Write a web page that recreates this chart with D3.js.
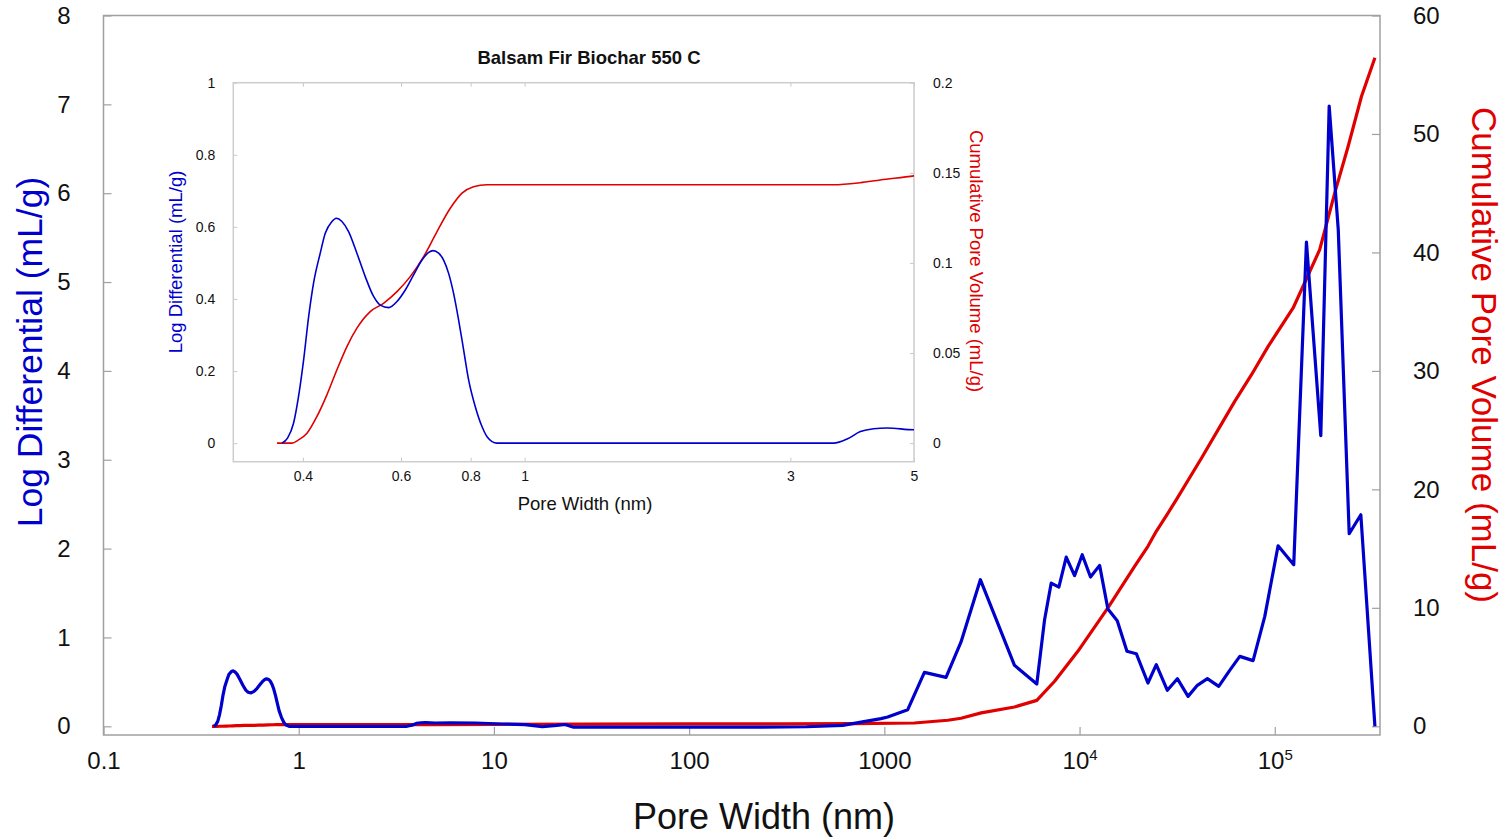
<!DOCTYPE html>
<html>
<head>
<meta charset="utf-8">
<script src="https://cdn.jsdelivr.net/npm/d3@7"></script>
<style>
  body { margin: 0; background: #fff; }
  svg { display: block; font-family: "Liberation Sans", Arial, sans-serif; }
  .tick text { fill: #111; }
</style>
</head>
<body>
<svg id="chart" width="1505" height="837"></svg>
<script>
// Log differential pore volume (mL/g) vs pore width (nm)
const diffWidth = [0.3667, 0.3754, 0.3848, 0.3928, 0.4012, 0.4096, 0.4180, 0.4297, 0.4387, 0.4510,
  0.4590, 0.4700, 0.4831, 0.5000, 0.5176, 0.5357, 0.5508, 0.5700, 0.5901, 0.6107,
  0.6321, 0.6544, 0.6726, 0.6848, 0.7008, 0.7155, 0.7305, 0.7455, 0.7612, 0.7772,
  0.7933, 0.8156, 0.8385, 0.8562, 0.8923, 1.2, 2.0, 3.0, 3.587, 3.8,
  4.006, 4.232, 4.473, 5.0, 6.0, 8.05, 11.0, 14.4, 17.7, 21.0,
  23.1, 25.6, 50, 100, 200, 400, 612, 961, 1040, 1318,
  1604, 2070, 2471, 3104, 4642, 6039, 6620, 7160, 7834, 8546,
  9427, 10320, 11380, 12670, 13970, 15600, 17490, 19530, 22400, 24720,
  28170, 31700, 35960, 40130, 45170, 51630, 58770, 66190, 77450, 88900,
  104000, 125100, 145300, 172100, 190000, 211500, 240600, 276000, 325900];
const diffValue = [0, 0.014, 0.055, 0.129, 0.231, 0.351, 0.444, 0.527, 0.582, 0.615,
  0.624, 0.615, 0.587, 0.527, 0.462, 0.407, 0.383, 0.376, 0.393, 0.425,
  0.467, 0.508, 0.529, 0.534, 0.527, 0.508, 0.471, 0.416, 0.342, 0.259,
  0.176, 0.101, 0.046, 0.018, 0, 0, 0, 0, 0, 0.012,
  0.032, 0.040, 0.042, 0.037, 0.040, 0.037, 0.026, 0.019, -0.003, 0.010,
  0.020, -0.010, -0.010, -0.010, -0.010, -0.005, 0.010, 0.086, 0.105, 0.187,
  0.607, 0.551, 0.949, 1.650, 0.686, 0.476, 1.200, 1.612, 1.567, 1.905,
  1.695, 1.931, 1.680, 1.811, 1.320, 1.189, 0.844, 0.817, 0.487, 0.694,
  0.405, 0.536, 0.337, 0.461, 0.536, 0.450, 0.630, 0.787, 0.739, 1.237,
  2.032, 1.819, 5.449, 3.27, 6.98, 5.587, 2.167, 2.381, 0];

// Cumulative pore volume (mL/g)
const cumWidth = [0.3594, 0.3822, 0.3928, 0.4068, 0.4239, 0.4417, 0.4604, 0.4798, 0.5, 0.5284,
  0.5581, 0.5901, 0.6233, 0.6588, 0.6963, 0.7355, 0.7721, 0.8096, 0.8562, 0.95,
  2.0, 3.587, 4.0, 4.35, 5.0, 10, 30, 100, 300, 700,
  1425, 2113, 2471, 3135, 4642, 6039, 7450, 9800, 13970, 19140,
  22400, 24720, 28380, 31330, 42170, 51290, 62370, 76000, 92500, 124200,
  169900, 202800, 237500, 278000, 325900];
const cumValue = [0, 0, 0.0018, 0.0055, 0.0148, 0.0268, 0.0407, 0.0536, 0.0638, 0.0730,
  0.0776, 0.0841, 0.0924, 0.1035, 0.1174, 0.1303, 0.1387, 0.1423, 0.1434, 0.1434,
  0.1434, 0.1434, 0.1445, 0.1460, 0.1483, 0.17, 0.19, 0.20, 0.21, 0.22,
  0.28, 0.51, 0.68, 1.13, 1.63, 2.19, 3.80, 6.33, 9.99, 13.50,
  15.19, 16.46, 18.0, 19.13, 22.65, 25.04, 27.43, 29.68, 32.07, 35.31,
  40.23, 45.01, 48.94, 53.16, 56.43];

// Tick values
const mainXTicks = [0.1, 1, 10, 100, 1000, 1e4, 1e5];
const mainYLeftTicks = [0, 1, 2, 3, 4, 5, 6, 7, 8];
const mainYRightTicks = [0, 10, 20, 30, 40, 50, 60];
const insetXTicks = [0.4, 0.6, 0.8, 1, 3, 5];
const insetYLeftTicks = [0, 0.2, 0.4, 0.6, 0.8, 1];
const insetYRightTicks = [0, 0.05, 0.1, 0.15, 0.2];

const BLUE = '#0000cc';
const RED = '#e00000';

const diffData = diffWidth.map((w, i) => ({ w, v: diffValue[i] }));
const cumData = cumWidth.map((w, i) => ({ w, v: cumValue[i] }));

const svg = d3.select('#chart');

// ---------- main chart ----------
const M = { left: 103.5, right: 1380, top: 15.5, bottom: 735 };

const x = d3.scaleLog().domain([0.1, 3.46e5]).range([M.left, M.right]);
const yL = d3.scaleLinear().domain([-0.098, 8]).range([M.bottom, M.top]);
const yR = d3.scaleLinear().domain([-0.735, 60]).range([M.bottom, M.top]);

function styleAxis(g, size) {
  g.select('.domain').remove();
  g.selectAll('.tick line').attr('stroke', '#a0a0a0').attr('stroke-width', 1.2);
  g.selectAll('.tick text').attr('font-size', size).attr('font-family', '"Liberation Sans", Arial, sans-serif');
}

const gx = svg.append('g')
  .attr('transform', `translate(0,${M.bottom})`)
  .call(d3.axisBottom(x).tickValues(mainXTicks).tickSize(-8).tickPadding(17)
    .tickFormat(d => d >= 1e4 ? '' : String(d)))
  .call(g => styleAxis(g, 24));

// powers of ten as superscripts
gx.selectAll('.tick text').each(function(d) {
  if (d >= 1e4) {
    const t = d3.select(this);
    t.append('tspan').text('10');
    t.append('tspan').attr('dy', '-0.6em').attr('font-size', 15).text(Math.round(Math.log10(d)));
  }
});

svg.append('g')
  .attr('transform', `translate(${M.left},0)`)
  .call(d3.axisLeft(yL).tickValues(mainYLeftTicks).tickSize(-8).tickPadding(33))
  .call(g => styleAxis(g, 24));

svg.append('g')
  .attr('transform', `translate(${M.right},0)`)
  .call(d3.axisRight(yR).tickValues(mainYRightTicks).tickSize(-8).tickPadding(33))
  .call(g => styleAxis(g, 24));

svg.append('rect')
  .attr('x', M.left).attr('y', M.top)
  .attr('width', M.right - M.left).attr('height', M.bottom - M.top)
  .attr('fill', 'none').attr('stroke', '#a0a0a0').attr('stroke-width', 1.5);

svg.append('path')
  .datum(cumData)
  .attr('fill', 'none').attr('stroke', RED).attr('stroke-width', 3.2)
  .attr('stroke-linejoin', 'round')
  .attr('d', d3.line().x(d => x(d.w)).y(d => yR(d.v)));

svg.append('path')
  .datum(diffData)
  .attr('fill', 'none').attr('stroke', BLUE).attr('stroke-width', 3.2)
  .attr('stroke-linejoin', 'round')
  .attr('d', d3.line().x(d => x(d.w)).y(d => yL(d.v)));

// axis titles
svg.append('text')
  .attr('x', 764).attr('y', 829)
  .attr('text-anchor', 'middle').attr('font-size', 36).attr('fill', '#111')
  .text('Pore Width (nm)');

svg.append('text')
  .attr('transform', 'translate(30,352) rotate(-90)')
  .attr('text-anchor', 'middle').attr('dominant-baseline', 'central')
  .attr('font-size', 35.5).attr('fill', BLUE)
  .text('Log Differential (mL/g)');

svg.append('text')
  .attr('transform', 'translate(1484,355) rotate(90)')
  .attr('text-anchor', 'middle').attr('dominant-baseline', 'central')
  .attr('font-size', 35).attr('fill', RED)
  .text('Cumulative Pore Volume (mL/g)');

// ---------- inset ----------
const I = { left: 233.3, right: 914, top: 82.7, bottom: 461.7 };

const xi = d3.scaleLog().domain([0.3, 5]).range([I.left, I.right]);
const yiL = d3.scaleLinear().domain([-0.0515, 1]).range([I.bottom, I.top]);
const yiR = d3.scaleLinear().domain([-0.0103, 0.2]).range([I.bottom, I.top]);

svg.append('rect')
  .attr('x', I.left).attr('y', I.top)
  .attr('width', I.right - I.left).attr('height', I.bottom - I.top)
  .attr('fill', '#fff');

svg.append('clipPath').attr('id', 'inset-clip')
  .append('rect')
  .attr('x', I.left).attr('y', I.top)
  .attr('width', I.right - I.left).attr('height', I.bottom - I.top);

function styleInset(g) {
  g.select('.domain').remove();
  g.selectAll('.tick line').attr('stroke', '#c8c8c8').attr('stroke-width', 1);
  g.selectAll('.tick text').attr('font-size', 14).attr('fill', '#222');
}

svg.append('g')
  .attr('transform', `translate(0,${I.bottom})`)
  .call(d3.axisBottom(xi).tickValues(insetXTicks).tickSize(-4).tickPadding(9).tickFormat(d => String(d)))
  .call(styleInset);

svg.append('g')
  .attr('transform', `translate(0,${I.top})`)
  .call(d3.axisTop(xi).tickValues(insetXTicks).tickSize(-4).tickFormat(''))
  .call(styleInset);

svg.append('g')
  .attr('transform', `translate(${I.left},0)`)
  .call(d3.axisLeft(yiL).tickValues(insetYLeftTicks).tickSize(-4).tickPadding(18).tickFormat(d => String(d)))
  .call(styleInset);

svg.append('g')
  .attr('transform', `translate(${I.right},0)`)
  .call(d3.axisRight(yiR).tickValues(insetYRightTicks).tickSize(-4).tickPadding(19).tickFormat(d => String(d)))
  .call(styleInset);

svg.append('rect')
  .attr('x', I.left).attr('y', I.top)
  .attr('width', I.right - I.left).attr('height', I.bottom - I.top)
  .attr('fill', 'none').attr('stroke', '#cdcdcd').attr('stroke-width', 1.5);

const insetDiff = diffData.filter(d => d.w <= 6);
const insetCum = cumData.filter(d => d.w <= 10);

const gi = svg.append('g').attr('clip-path', 'url(#inset-clip)');

gi.append('path')
  .datum(insetCum)
  .attr('fill', 'none').attr('stroke', RED).attr('stroke-width', 1.6)
  .attr('d', d3.line().curve(d3.curveMonotoneX).x(d => xi(d.w)).y(d => yiR(d.v)));

gi.append('path')
  .datum(insetDiff)
  .attr('fill', 'none').attr('stroke', BLUE).attr('stroke-width', 1.6)
  .attr('d', d3.line().curve(d3.curveMonotoneX).x(d => xi(d.w)).y(d => yiL(d.v)));

svg.append('text')
  .attr('x', 589).attr('y', 64)
  .attr('text-anchor', 'middle').attr('font-size', 18.5).attr('font-weight', 'bold').attr('fill', '#111')
  .text('Balsam Fir Biochar 550 C');

svg.append('text')
  .attr('x', 585).attr('y', 510)
  .attr('text-anchor', 'middle').attr('font-size', 18.5).attr('fill', '#111')
  .text('Pore Width (nm)');

svg.append('text')
  .attr('transform', 'translate(175,262) rotate(-90)')
  .attr('text-anchor', 'middle').attr('dominant-baseline', 'central')
  .attr('font-size', 18.5).attr('fill', BLUE)
  .text('Log Differential (mL/g)');

svg.append('text')
  .attr('transform', 'translate(976,261) rotate(90)')
  .attr('text-anchor', 'middle').attr('dominant-baseline', 'central')
  .attr('font-size', 18.5).attr('fill', RED)
  .text('Cumulative Pore Volume (mL/g)');
</script>
</body>
</html>
